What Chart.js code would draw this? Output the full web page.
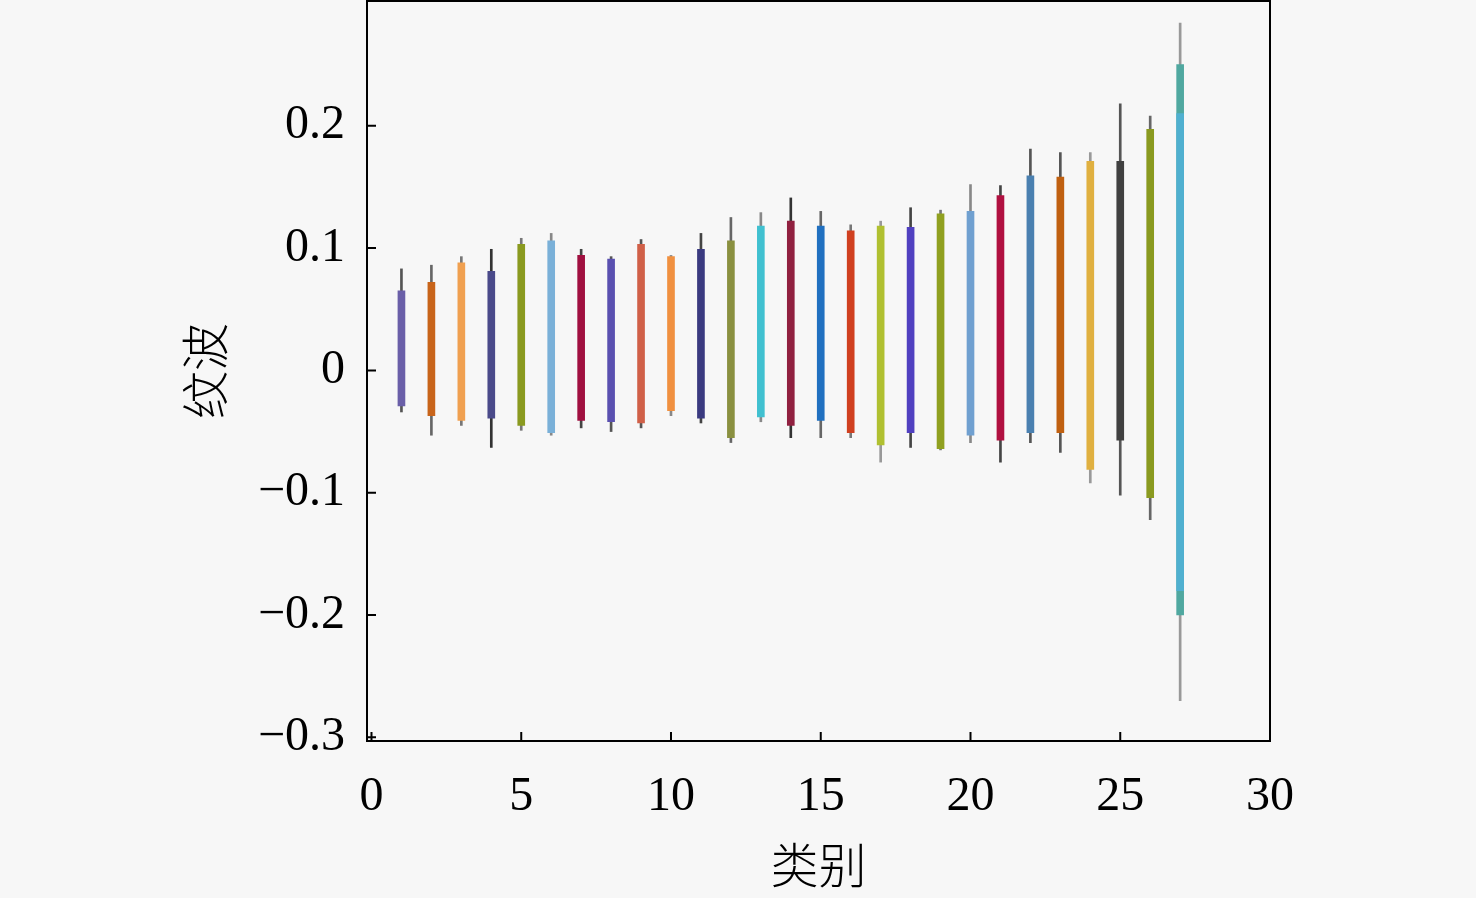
<!DOCTYPE html>
<html>
<head>
<meta charset="utf-8">
<script src="https://cdn.jsdelivr.net/npm/chart.js@4/dist/chart.umd.min.js"></script>
<style>
html, body { margin: 0; padding: 0; background: #f7f7f7; }
#wrap { width: 1476px; height: 898px; }
</style>
</head>
<body>
<div id="wrap"><canvas id="rippleChart" width="1476" height="898"></canvas></div>
<script>
// categories 1..27, ripple range per category
var categories = [1, 2, 3, 4, 5, 6, 7, 8, 9, 10, 11, 12, 13, 14, 15, 16, 17, 18, 19, 20, 21, 22, 23, 24, 25, 26, 27];
// outer extremes (thin line)
var maxVals = [0.083, 0.086, 0.093, 0.099, 0.108, 0.112, 0.099, 0.093, 0.107, 0.094, 0.112, 0.125, 0.129, 0.141, 0.130, 0.119, 0.122, 0.133, 0.131, 0.152, 0.151, 0.181, 0.178, 0.178, 0.218, 0.208, 0.284];
var minVals = [-0.034, -0.053, -0.045, -0.063, -0.049, -0.053, -0.047, -0.050, -0.047, -0.037, -0.043, -0.059, -0.042, -0.055, -0.055, -0.055, -0.075, -0.063, -0.065, -0.059, -0.075, -0.059, -0.067, -0.092, -0.102, -0.122, -0.270];
// main band (thick bar)
var upperVals = [0.065, 0.072, 0.088, 0.081, 0.103, 0.106, 0.094, 0.091, 0.103, 0.093, 0.099, 0.106, 0.118, 0.122, 0.118, 0.114, 0.118, 0.117, 0.128, 0.130, 0.143, 0.159, 0.158, 0.171, 0.171, 0.197, 0.250];
var lowerVals = [-0.029, -0.037, -0.041, -0.039, -0.045, -0.051, -0.041, -0.042, -0.043, -0.033, -0.039, -0.055, -0.038, -0.045, -0.041, -0.051, -0.061, -0.051, -0.064, -0.053, -0.057, -0.051, -0.051, -0.081, -0.057, -0.104, -0.200];
var bandColors = ['#6a5fa8', '#c8641a', '#f0a050', '#4a4a8a', '#8a9a20', '#7ab0d8', '#a01040', '#5a50b0', '#d06048', '#f09040',
  '#3a3a80', '#8a9040', '#40c0d0', '#902040', '#2070c0', '#d04020', '#b0c030', '#5040c0', '#90a020', '#70a0d0',
  '#b01040', '#4a80b0', '#c06010', '#e0b040', '#404040', '#8a9a20', '#50a8a0'];
// inner core of the widest category
var coreCategory = [27];
var coreUpper = [0.210];
var coreLower = [-0.180];
var coreColors = ['#50b0d0'];
var edgeColors = ['#555555', '#666666', '#777777', '#333333', '#777777', '#888888', '#444444', '#555555', '#555555', '#888888',
  '#444444', '#666666', '#888888', '#333333', '#666666', '#777777', '#999999', '#444444', '#777777', '#888888',
  '#444444', '#555555', '#555555', '#999999', '#555555', '#666666', '#999999'];
var xTicks = [0, 5, 10, 15, 20, 25, 30];
var yTicks = [-0.3, -0.2, -0.1, 0, 0.1, 0.2];
var yTickLabels = ['\u22120.3', '\u22120.2', '\u22120.1', '0', '0.1', '0.2'];

var coreData = coreCategory.map(function (c, i) { return { x: c, y: [coreLower[i], coreUpper[i]] }; });
var bandData = categories.map(function (c, i) { return { x: c, y: [lowerVals[i], upperVals[i]] }; });
var edgeData = categories.map(function (c, i) { return { x: c, y: [minVals[i], maxVals[i]] }; });

var serif = '"Liberation Serif", "DejaVu Serif", serif';

// inward ticks + full frame
var frameTicks = {
  id: 'frameTicks',
  beforeDraw: function (chart) {
    var c = chart.ctx;
    c.save();
    c.fillStyle = '#f7f7f7';
    c.fillRect(0, 0, chart.width, chart.height);
    c.restore();
  },
  afterDraw: function (chart) {
    var c = chart.ctx, a = chart.chartArea;
    var xs = chart.scales.x, ys = chart.scales.y;
    c.save();
    c.strokeStyle = '#000';
    c.lineWidth = 2;
    c.strokeRect(a.left, a.top, a.right - a.left, a.bottom - a.top);
    c.beginPath();
    xTicks.forEach(function (v) {
      var px = xs.getPixelForValue(v);
      c.moveTo(px, a.bottom);
      c.lineTo(px, a.bottom - 9);
    });
    yTicks.forEach(function (v) {
      var py = ys.getPixelForValue(v);
      c.moveTo(a.left, py);
      c.lineTo(a.left + 9, py);
    });
    c.stroke();
    c.restore();
  }
};

var ctx = document.getElementById('rippleChart').getContext('2d');
var rippleChart = new Chart(ctx, {
  type: 'bar',
  data: {
    datasets: [{
      label: 'core',
      data: coreData,
      backgroundColor: coreColors,
      borderWidth: 0,
      barThickness: 7,
      grouped: false
    }, {
      label: 'band',
      data: bandData,
      backgroundColor: bandColors,
      borderWidth: 0,
      barThickness: 7,
      grouped: false
    }, {
      label: 'edge',
      data: edgeData,
      backgroundColor: edgeColors,
      borderWidth: 0,
      barThickness: 2,
      grouped: false
    }]
  },
  plugins: [frameTicks],
  options: {
    responsive: false,
    animation: false,
    layout: { padding: { left: 0, right: 206, top: 1, bottom: 0 } },
    plugins: { legend: { display: false }, tooltip: { enabled: false } },
    scales: {
      x: {
        type: 'linear',
        offset: false,
        min: -0.15,
        max: 30,
        afterBuildTicks: function (s) { s.ticks = xTicks.map(function (v) { return { value: v }; }); },
        afterFit: function (s) { s.height = 157; s.paddingLeft = 0; s.paddingRight = 0; },
        grid: { display: false, drawTicks: false, offset: false },
        border: { display: false },
        ticks: { color: '#000', font: { family: serif, size: 48 }, padding: 28, maxRotation: 0 },
        title: { display: true, text: '类别', color: '#000', font: { family: '"Noto Sans CJK SC"', size: 48, weight: '300' }, padding: { top: 0, bottom: 4 } }
      },
      y: {
        min: -0.303,
        max: 0.302,
        afterBuildTicks: function (s) { s.ticks = yTicks.map(function (v) { return { value: v }; }); },
        afterFit: function (s) { s.width = 367; s.paddingTop = 0; s.paddingBottom = 0; },
        grid: { display: false, drawTicks: false },
        border: { display: false },
        ticks: {
          color: '#000', font: { family: serif, size: 48 }, padding: 22,
          callback: function (v) { var i = yTicks.indexOf(v); return i >= 0 ? yTickLabels[i] : ''; }
        },
        title: { display: true, text: '纹波', color: '#000', font: { family: '"Noto Sans CJK SC"', size: 48, weight: '300' }, padding: { top: 176, bottom: 0 } }
      }
    }
  }
});
</script>
</body>
</html>
